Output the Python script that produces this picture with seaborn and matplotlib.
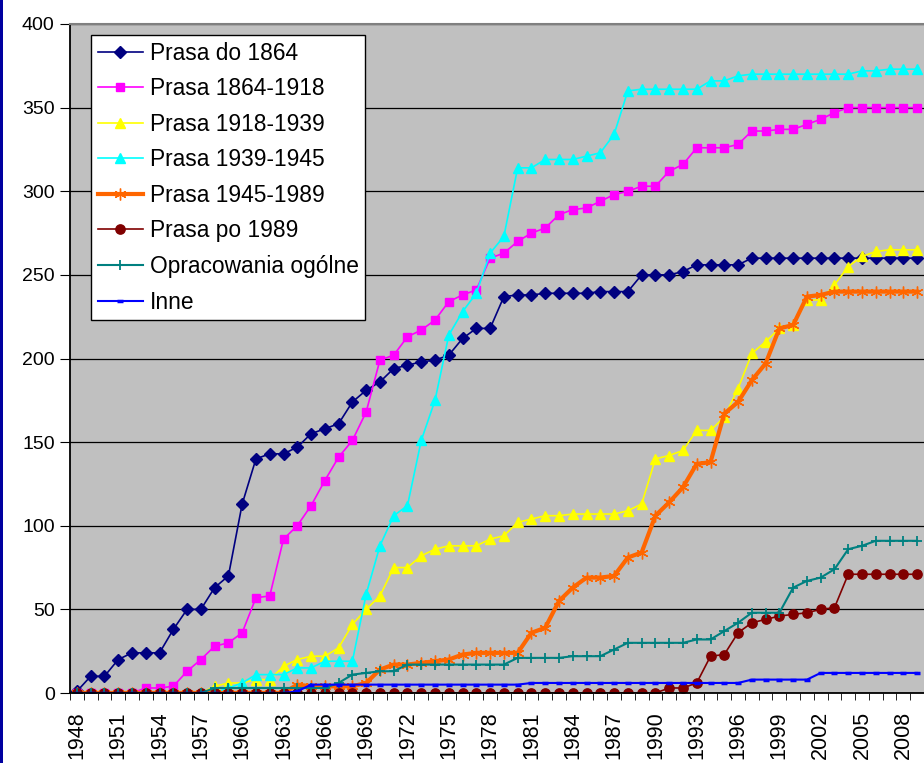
import matplotlib
matplotlib.use("Agg")
import matplotlib.pyplot as plt
from matplotlib.patches import Rectangle
import numpy as np
import seaborn as sns

# Years on the category axis
years = list(range(1948, 2010))
year_labels = [str(y) for y in years[::3]]

# Cumulative counts, one value per year 1948-2009
prasa_do_1864 = [1, 10, 10, 20, 24, 24, 24, 38, 50, 50,
                 63, 70, 113, 140, 143, 143, 147, 155, 158, 161,
                 174, 181, 186, 194, 196, 198, 199, 202, 212, 218,
                 218, 237, 238, 238, 239, 239, 239, 239, 240, 240,
                 240, 250, 250, 250, 252, 256, 256, 256, 256, 260,
                 260, 260, 260, 260, 260, 260, 260, 260, 260, 260,
                 260, 260]
prasa_1864_1918 = [0, 0, 0, 0, 0, 3, 3, 4, 13, 20,
                   28, 30, 36, 57, 58, 92, 100, 112, 127, 141,
                   151, 168, 199, 202, 213, 217, 223, 234, 238, 241,
                   260, 263, 270, 275, 278, 286, 289, 290, 294, 298,
                   300, 303, 303, 312, 316, 326, 326, 326, 328, 336,
                   336, 337, 337, 340, 343, 347, 350, 350, 350, 350,
                   350, 350]
prasa_1918_1939 = [0, 0, 0, 0, 0, 0, 0, 0, 0, 0,
                   4, 6, 6, 8, 8, 16, 20, 22, 22, 27,
                   41, 50, 58, 75, 75, 82, 86, 88, 88, 88,
                   92, 94, 102, 104, 106, 106, 107, 107, 107, 107,
                   109, 113, 140, 142, 145, 157, 157, 165, 182, 203,
                   210, 218, 220, 235, 235, 244, 255, 261, 264, 265,
                   265, 265]
prasa_1939_1945 = [0, 0, 0, 0, 0, 0, 0, 0, 0, 0,
                   0, 3, 6, 11, 11, 11, 15, 15, 19, 19,
                   19, 59, 88, 106, 112, 151, 175, 214, 228, 239,
                   263, 273, 314, 314, 319, 319, 319, 321, 323, 334,
                   360, 361, 361, 361, 361, 361, 366, 366, 369, 370,
                   370, 370, 370, 370, 370, 370, 370, 372, 372, 373,
                   373, 373]
prasa_1945_1989 = [0, 0, 0, 0, 0, 0, 0, 0, 0, 0,
                   0, 0, 0, 0, 0, 0, 5, 4, 4, 4,
                   4, 6, 14, 17, 17, 18, 19, 20, 23, 24,
                   24, 24, 24, 36, 39, 55, 63, 69, 69, 70,
                   81, 84, 106, 114, 123, 137, 138, 167, 174, 187,
                   197, 218, 220, 237, 238, 240, 240, 240, 240, 240,
                   240, 240]
prasa_po_1989 = [0, 0, 0, 0, 0, 0, 0, 0, 0, 0,
                 0, 0, 0, 0, 0, 0, 0, 0, 0, 0,
                 0, 0, 0, 0, 0, 0, 0, 0, 0, 0,
                 0, 0, 0, 0, 0, 0, 0, 0, 0, 0,
                 0, 0, 0, 3, 3, 6, 22, 23, 36, 42,
                 44, 46, 47, 48, 50, 51, 71, 71, 71, 71,
                 71, 71]
opracowania = [0, 0, 0, 0, 0, 0, 0, 0, 0, 0,
               3, 3, 3, 3, 3, 3, 3, 3, 3, 6,
               11, 12, 13, 13, 17, 17, 17, 17, 17, 17,
               17, 17, 21, 21, 21, 21, 22, 22, 22, 26,
               30, 30, 30, 30, 30, 32, 32, 37, 42, 48,
               48, 48, 63, 67, 69, 74, 86, 88, 91, 91,
               91, 91]
inne = [0, 0, 0, 0, 0, 0, 0, 0, 0, 0,
        0, 0, 0, 0, 0, 0, 1, 5, 5, 5,
        5, 5, 5, 5, 5, 5, 5, 5, 5, 5,
        5, 5, 5, 6, 6, 6, 6, 6, 6, 6,
        6, 6, 6, 6, 6, 6, 6, 6, 6, 8,
        8, 8, 8, 8, 12, 12, 12, 12, 12, 12,
        12, 12]

series_names = ["Prasa do 1864", "Prasa 1864-1918", "Prasa 1918-1939",
                "Prasa 1939-1945", "Prasa 1945-1989", "Prasa po 1989",
                "Opracowania ogólne", "Inne"]
series_values = [prasa_do_1864, prasa_1864_1918, prasa_1918_1939,
                 prasa_1939_1945, prasa_1945_1989, prasa_po_1989,
                 opracowania, inne]

# Styles: colour, marker, marker size, line width, marker edge width
styles = [
    ("#000080", "D", 5.8, 1.2, 1.0),
    ("#FF00FF", "s", 6.3, 1.2, 1.0),
    ("#FFFF00", "^", 7.2, 1.2, 1.0),
    ("#00FFFF", "^", 7.2, 1.2, 1.0),
    ("#FF6600", (6, 2, 0), 8.5, 3.0, 1.0),
    ("#800000", "o", 6.7, 1.2, 1.0),
    ("#008080", "+", 7.5, 1.5, 1.3),
    ("#0000FF", "_", 4.0, 1.5, 2.5),
]

plt.rcParams["font.family"] = ["Liberation Sans", "DejaVu Sans"]

fig = plt.figure(figsize=(9.24, 7.63), dpi=100)
ax = fig.add_axes([70 / 924, 1 - 693 / 763, 1 - 70 / 924, (693 - 24) / 763])
ax.set_facecolor("#C0C0C0")

# Grid lines behind the series
ax.set_axisbelow(True)
ax.yaxis.grid(True, color="black", linewidth=0.9)

for name, vals, (col, mk, ms, lw, mew) in zip(series_names, series_values, styles):
    sns.lineplot(x=years, y=vals, ax=ax, color=col, marker=mk, markersize=ms,
                 linewidth=lw, markeredgecolor=col, markeredgewidth=mew,
                 markerfacecolor=col, label=name)

ax.set_xlim(1947.5, 2009.16)
ax.set_ylim(0, 400)
ax.set_yticks(range(0, 401, 50))
ax.set_xticks(years[::3])
ax.set_xticklabels(year_labels, rotation=90)
ax.set_xticks(np.arange(1947.5, 2010, 1), minor=True)
ax.tick_params(axis="x", which="major", length=0, pad=13, labelsize=15.5)
ax.tick_params(axis="x", which="minor", length=5, direction="out", color="black")
ax.tick_params(axis="y", length=7, direction="out", labelsize=14, pad=4)
ax.set_xlabel("")
ax.set_ylabel("")

ax.spines["right"].set_visible(False)
ax.spines["top"].set_color("#808080")
ax.spines["top"].set_linewidth(1.5)
ax.spines["left"].set_color("black")
ax.spines["left"].set_linewidth(1.3)
ax.spines["bottom"].set_color("black")
ax.spines["bottom"].set_linewidth(1.3)

leg = ax.legend(loc="upper left", bbox_to_anchor=((91 - 70) / 854, (693 - 35) / 669),
                fontsize=16.4, frameon=True, fancybox=False, framealpha=1,
                edgecolor="black", borderpad=0.3, handlelength=1.97,
                handletextpad=0.3, labelspacing=0.55, borderaxespad=0)
leg.get_frame().set_linewidth(1.0)

# Dark blue strip on the left edge of the picture
fig.patches.append(Rectangle((0, 0), 3 / 924, 1, transform=fig.transFigure,
                             facecolor="#0000A0", edgecolor="none"))

fig.savefig("out.png", dpi=100)
